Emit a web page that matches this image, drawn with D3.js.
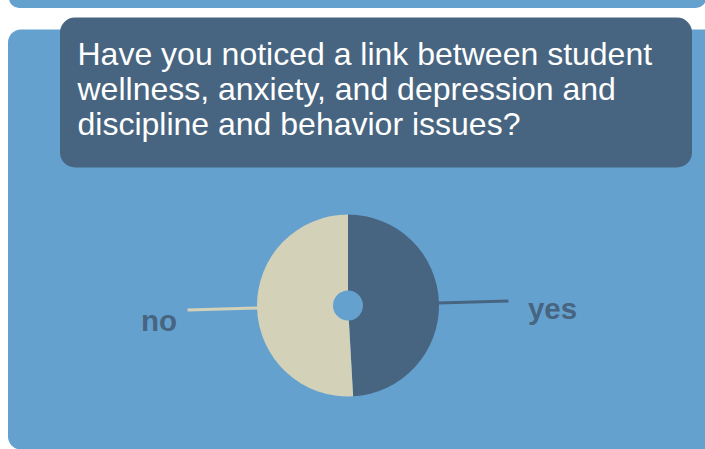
<!DOCTYPE html>
<html>
<head>
<meta charset="utf-8">
<script src="https://cdn.jsdelivr.net/npm/d3@7"></script>
<style>
  html, body { margin: 0; padding: 0; background: #ffffff; }
  svg { display: block; }
</style>
</head>
<body>
<svg id="chart" width="705" height="449"></svg>
<script>
const categories = ["yes", "no"];
const values = [49.1, 50.9];
const titleLines = [
  "Have you noticed a link between student",
  "wellness, anxiety, and depression and",
  "discipline and behavior issues?"
];

const colors = { yes: "#476580", no: "#d3d1b8" };
const panelColor = "#65a1cf";
const darkColor = "#476580";

const svg = d3.select("#chart");

// top bar (previous panel)
svg.append("rect").attr("x", 9).attr("y", -20).attr("width", 697).attr("height", 28)
  .attr("rx", 10).attr("fill", panelColor);

// main panel
svg.append("rect").attr("x", 8).attr("y", 29.5).attr("width", 712).attr("height", 420)
  .attr("rx", 13).attr("fill", panelColor);

// title box
svg.append("rect").attr("x", 60).attr("y", 17.5).attr("width", 632).attr("height", 150)
  .attr("rx", 15).attr("fill", darkColor);

const title = svg.append("text")
  .attr("font-family", "'Liberation Sans', Arial, sans-serif")
  .attr("font-size", 32).attr("fill", "#ffffff");
title.selectAll("tspan").data(titleLines).join("tspan")
  .attr("x", 77.5).attr("y", (d, i) => 65 + i * 35).text(d => d);

// pie
const cx = 348, cy = 305.5, rOuter = 91, rInner = 15, rLine = 160.5;
const data = categories.map((c, i) => ({ cat: c, value: values[i] }));
const pie = d3.pie().value(d => d.value).sort(null).startAngle(0).endAngle(2 * Math.PI);
const arcs = pie(data);
const arc = d3.arc().innerRadius(rInner).outerRadius(rOuter);

const g = svg.append("g").attr("transform", `translate(${cx},${cy})`);
g.selectAll("path.slice").data(arcs).join("path")
  .attr("class", "slice")
  .attr("d", arc)
  .attr("fill", d => colors[d.data.cat]);

// leader lines
const pt = (a, r) => [Math.sin(a) * r, -Math.cos(a) * r];
const mid = d => (d.startAngle + d.endAngle) / 2;

g.selectAll("line.leader").data(arcs).join("line")
  .attr("class", "leader")
  .attr("x1", d => pt(mid(d), rOuter - 1)[0])
  .attr("y1", d => pt(mid(d), rOuter - 1)[1])
  .attr("x2", d => pt(mid(d), rLine)[0])
  .attr("y2", d => pt(mid(d), rLine)[1])
  .attr("stroke", d => colors[d.data.cat])
  .attr("stroke-width", 3);

g.selectAll("text.lbl").data(arcs).join("text")
  .attr("class", "lbl")
  .attr("font-family", "'Liberation Sans', Arial, sans-serif")
  .attr("font-weight", "bold")
  .attr("font-size", 29.5)
  .attr("fill", darkColor)
  .attr("text-anchor", d => Math.sin(mid(d)) > 0 ? "start" : "end")
  .attr("x", d => {
    const p = pt(mid(d), rLine);
    return Math.sin(mid(d)) > 0 ? p[0] + 19.5 : p[0] - 10.5;
  })
  .attr("y", d => {
    const p = pt(mid(d), rLine);
    return Math.sin(mid(d)) > 0 ? p[1] + 18 : p[1] + 20.5;
  })
  .text(d => d.data.cat);
</script>
</body>
</html>
